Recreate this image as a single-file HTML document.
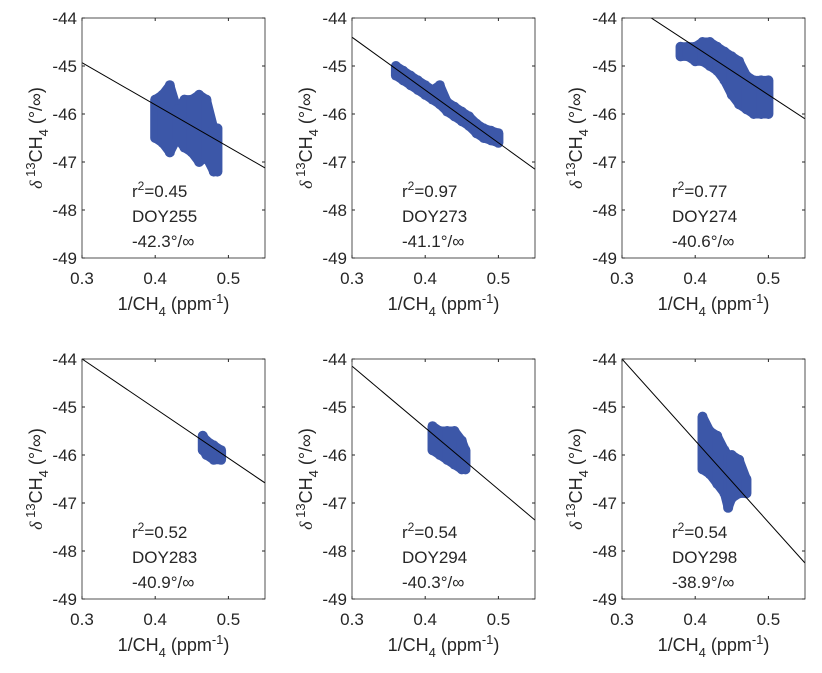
<!DOCTYPE html>
<html><head><meta charset="utf-8"><style>
html,body{margin:0;padding:0;background:#fff;width:822px;height:673px;overflow:hidden}
svg{display:block}
text{font-family:"Liberation Sans",sans-serif;fill:#262626}
</style></head><body>
<svg id="fig" width="822" height="673"></svg>
<script>
const panelLabels=["DOY255","DOY273","DOY274","DOY283","DOY294","DOY298"];
const r2Values=["0.45","0.97","0.77","0.52","0.54","0.54"];
const intercepts=[-42.3,-41.1,-40.6,-40.9,-40.3,-38.9];
const slopes=[-8.77,-11,-10,-10.33,-12.83,-17];
const xTicks=[0.3,0.4,0.5];
const yTicks=[-44,-45,-46,-47,-48,-49];
// each cluster: [x, ymax, ymin]
const cluster0=[[0.40,-45.7,-46.5],[0.41,-45.6,-46.6],[0.42,-45.4,-46.8],[0.43,-45.9,-46.5],[0.44,-45.7,-46.7],[0.45,-45.7,-46.8],[0.46,-45.6,-47.0],[0.47,-45.7,-46.9],[0.48,-46.3,-47.2],[0.485,-46.3,-47.2]];
const cluster1=[[0.36,-45.0,-45.2],[0.37,-45.1,-45.3],[0.38,-45.2,-45.4],[0.39,-45.3,-45.5],[0.40,-45.4,-45.6],[0.41,-45.5,-45.7],[0.42,-45.4,-45.8],[0.43,-45.75,-45.95],[0.44,-45.85,-46.05],[0.45,-45.95,-46.15],[0.46,-46.05,-46.25],[0.47,-46.2,-46.4],[0.48,-46.3,-46.5],[0.49,-46.35,-46.55],[0.50,-46.4,-46.6]];
const cluster2=[[0.38,-44.6,-44.8],[0.39,-44.6,-44.8],[0.40,-44.6,-44.9],[0.41,-44.5,-44.9],[0.42,-44.5,-45.0],[0.43,-44.6,-45.1],[0.44,-44.7,-45.3],[0.45,-44.8,-45.6],[0.46,-44.9,-45.8],[0.47,-45.2,-45.9],[0.48,-45.3,-46.0],[0.49,-45.3,-46.0],[0.50,-45.3,-46.0]];
const cluster3=[[0.465,-45.6,-45.9],[0.47,-45.7,-46.0],[0.48,-45.8,-46.1],[0.49,-45.9,-46.1]];
const cluster4=[[0.41,-45.4,-45.9],[0.42,-45.5,-46.0],[0.43,-45.5,-46.1],[0.44,-45.5,-46.2],[0.45,-45.7,-46.3],[0.455,-45.9,-46.3]];
const cluster5=[[0.41,-45.2,-46.3],[0.42,-45.5,-46.4],[0.43,-45.6,-46.6],[0.44,-45.9,-46.8],[0.445,-46.0,-47.1],[0.45,-46.0,-46.9],[0.46,-46.1,-46.8],[0.47,-46.5,-46.8]];
const clusters=[cluster0,cluster1,cluster2,cluster3,cluster4,cluster5];

const NS="http://www.w3.org/2000/svg";
const svg=document.getElementById('fig');
function mk(tag,attrs,parent){const e=document.createElementNS(NS,tag);for(const k in attrs)e.setAttribute(k,attrs[k]);(parent||svg).appendChild(e);return e;}
const W=183,H=240,lefts=[82,352,622],tops=[18,359];
for(let p=0;p<6;p++){
  const L=lefts[p%3],T=tops[Math.floor(p/3)];
  const sx=x=>L+(x-0.3)/0.25*W, sy=y=>T+(-44-y)/5*H;
  const g=mk('g',{});
  
  
  const clip=mk('clipPath',{id:'c'+p},g);mk('rect',{x:L,y:T,width:W,height:H},clip);
  const sg=mk('g',{'clip-path':'url(#c'+p+')'},g);
  
  
  const c=clusters[p];
  const pts=c.map(d=>sx(d[0])+','+sy(d[1])).concat(c.slice().reverse().map(d=>sx(d[0])+','+sy(d[2])));
  const poly=mk('polygon',{points:pts.join(' '),fill:'#3c57a8',stroke:'#3c57a8','stroke-width':9,'stroke-linejoin':'round'},sg);
  
  
  c.forEach(d=>{
    const l=mk('line',{x1:sx(d[0]),x2:sx(d[0]),y1:sy(d[1]),y2:sy(d[2]),stroke:'#3c57a8','stroke-width':10,'stroke-linecap':'round'},sg);
    
    
  });
  const rl=mk('line',{x1:sx(0.3),y1:sy(intercepts[p]+slopes[p]*0.3),x2:sx(0.55),y2:sy(intercepts[p]+slopes[p]*0.55),stroke:'#000','stroke-width':1,'clip-path':'url(#c'+p+')'},g);
  
  
  const bx=mk('rect',{x:L,y:T,width:W,height:H,fill:'none',stroke:'#262626','stroke-width':0.8},g);
  
  
  xTicks.forEach(v=>{
    const x=sx(v);
    mk('line',{x1:x,x2:x,y1:T+H,y2:T+H-3,stroke:'#262626'},g);
    mk('line',{x1:x,x2:x,y1:T,y2:T+3,stroke:'#262626'},g);
    const t=mk('text',{x:x,y:T+H+26,'text-anchor':'middle','font-size':17},g);t.textContent=v.toFixed(1);
    
    
  });
  yTicks.forEach(v=>{
    const y=sy(v);
    mk('line',{x1:L,x2:L+3,y1:y,y2:y,stroke:'#262626'},g);
    mk('line',{x1:L+W,x2:L+W-3,y1:y,y2:y,stroke:'#262626'},g);
    const t=mk('text',{x:L-5,y:y+6,'text-anchor':'end','font-size':17},g);t.textContent=v;
    
    
  });
  const xt=mk('text',{x:L+W/2,y:T+H+52,'text-anchor':'middle','font-size':18},g);
  xt.innerHTML='1/CH<tspan dy="6" font-size="13">4</tspan><tspan dy="-6"> (ppm</tspan><tspan dy="-7" font-size="13">-1</tspan><tspan dy="7">)</tspan>';
  
  
  const yt=mk('text',{x:0,y:0,'text-anchor':'middle','font-size':18,transform:`translate(${L-40},${T+H/2}) rotate(-90)`},g);
  yt.innerHTML='<tspan font-style="italic" font-family="Liberation Serif">δ</tspan><tspan dy="-7" font-size="13"> 13</tspan><tspan dy="7">CH</tspan><tspan dy="6" font-size="13">4</tspan><tspan dy="-6"> (°/∞)</tspan>';
  
  
  const tx=L+50;
  const a1=mk('text',{x:tx,y:T+179,'font-size':17},g);a1.innerHTML='r<tspan dy="-7" font-size="12">2</tspan><tspan dy="7">='+r2Values[p]+'</tspan>';
  
  
  const a2=mk('text',{x:tx,y:T+204,'font-size':17},g);a2.textContent=panelLabels[p];
  
  
  const a3=mk('text',{x:tx,y:T+229,'font-size':17},g);a3.textContent=intercepts[p].toFixed(1)+'°/∞';
  
  
}
</script>
</body></html>
